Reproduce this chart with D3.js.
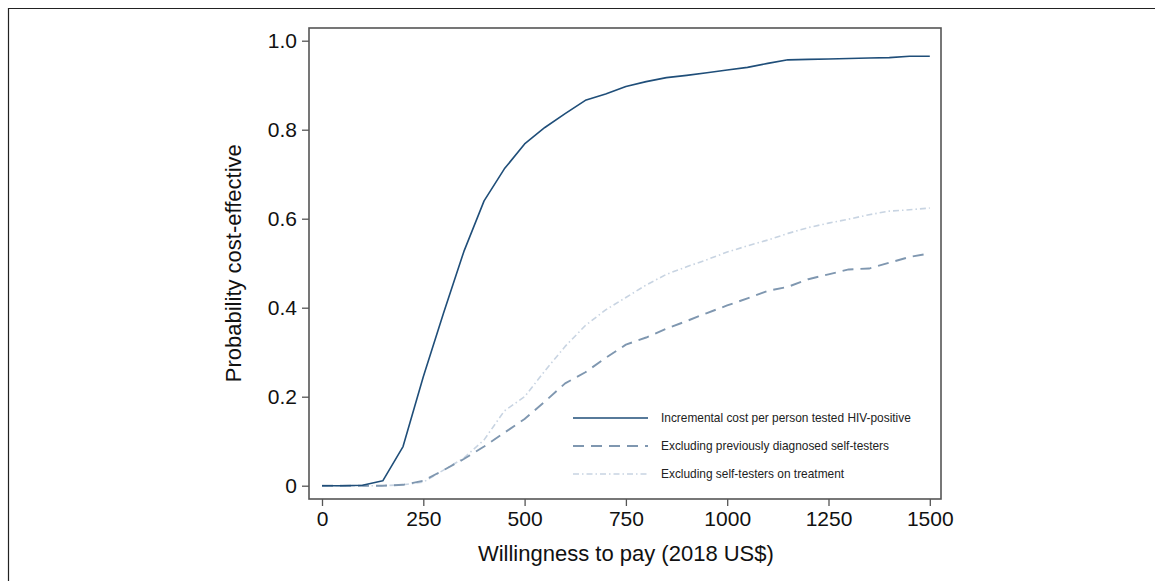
<!DOCTYPE html>
<html>
<head>
<meta charset="utf-8">
<script src="https://cdn.jsdelivr.net/npm/d3@7"></script>
<style>
  html, body { margin: 0; padding: 0; background: #fff; }
  svg { display: block; font-family: "Liberation Sans", Arial, Helvetica, sans-serif; }
</style>
</head>
<body>
<svg id="chart" width="1155" height="581"></svg>
<script>
// Willingness-to-pay thresholds (2018 US$)
const wtp = [0, 50, 100, 150, 200, 250, 300, 350, 400, 450, 500, 550, 600, 650, 700, 750,
             800, 850, 900, 950, 1000, 1050, 1100, 1150, 1200, 1250, 1300, 1350, 1400, 1450, 1500];

// Probability cost-effective for each scenario
const baseCase = [0, 0, 0.001, 0.011, 0.088, 0.245, 0.388, 0.526, 0.640, 0.712, 0.768, 0.805, 0.836, 0.866, 0.880, 0.897,
                  0.908, 0.917, 0.922, 0.928, 0.934, 0.940, 0.949, 0.957, 0.958, 0.959, 0.960, 0.961, 0.962, 0.965, 0.965];
const exclDiagnosed = [0, 0, 0, 0, 0.002, 0.011, 0.035, 0.060, 0.088, 0.119, 0.150, 0.189, 0.230, 0.255, 0.287, 0.317,
                       0.333, 0.353, 0.370, 0.388, 0.405, 0.421, 0.438, 0.447, 0.464, 0.475, 0.486, 0.488, 0.501, 0.514, 0.522];
const exclOnTreatment = [0, 0, 0, 0, 0.002, 0.008, 0.035, 0.062, 0.103, 0.168, 0.200, 0.258, 0.313, 0.360, 0.395, 0.423,
                         0.451, 0.475, 0.492, 0.508, 0.525, 0.539, 0.552, 0.567, 0.580, 0.590, 0.599, 0.609, 0.617, 0.620, 0.624];

const seriesNames = [
  "Incremental cost per person tested HIV-positive",
  "Excluding previously diagnosed self-testers",
  "Excluding self-testers on treatment"
];

const xTicks = [0, 250, 500, 750, 1000, 1250, 1500];
const xTickLabels = ["0", "250", "500", "750", "1000", "1250", "1500"];
const yTicks = [0, 0.2, 0.4, 0.6, 0.8, 1.0];
const yTickLabels = ["0", "0.2", "0.4", "0.6", "0.8", "1.0"];

const styles = [
  { color: "#1f4e79", width: 1.6, dash: null },
  { color: "#7f97b0", width: 1.9, dash: "11,7" },
  { color: "#c8d4e2", width: 1.6, dash: "6,3,1.5,3" }
];

const svg = d3.select("#chart");

// outer frame of the figure
svg.append("path")
  .attr("d", "M8.5,581 L8.5,8.5 L1155,8.5")
  .attr("fill", "none")
  .attr("stroke", "#222")
  .attr("stroke-width", 1.2);

const x = d3.scaleLinear().domain([0, 1500]).range([322, 929.8]);
const y = d3.scaleLinear().domain([0, 1]).range([485.7, 40.7]);

// plot region box
const box = { left: 309, right: 941, top: 28, bottom: 499 };
svg.append("rect")
  .attr("x", box.left).attr("y", box.top)
  .attr("width", box.right - box.left).attr("height", box.bottom - box.top)
  .attr("fill", "none").attr("stroke", "#555").attr("stroke-width", 1.6);

// axes
const xAxis = d3.axisBottom(x).tickValues(xTicks).tickFormat((d, i) => xTickLabels[i])
  .tickSize(7).tickPadding(5).tickSizeOuter(0);
const gx = svg.append("g").attr("transform", `translate(0,${box.bottom})`).call(xAxis);
gx.select(".domain").remove();
gx.selectAll(".tick line").attr("stroke", "#555").attr("stroke-width", 1.3);
gx.selectAll(".tick text").attr("font-size", 21).attr("fill", "#111")
  .attr("font-family", "'Liberation Sans', Arial, sans-serif");

const yAxis = d3.axisLeft(y).tickValues(yTicks).tickFormat((d, i) => yTickLabels[i])
  .tickSize(7).tickPadding(5).tickSizeOuter(0);
const gy = svg.append("g").attr("transform", `translate(${box.left},0)`).call(yAxis);
gy.select(".domain").remove();
gy.selectAll(".tick line").attr("stroke", "#555").attr("stroke-width", 1.3);
gy.selectAll(".tick text").attr("font-size", 21).attr("fill", "#111")
  .attr("font-family", "'Liberation Sans', Arial, sans-serif");

// axis titles
svg.append("text")
  .attr("x", (x(0) + x(1500)) / 2).attr("y", 561)
  .attr("text-anchor", "middle").attr("font-size", 22).attr("fill", "#111")
  .text("Willingness to pay (2018 US$)");

svg.append("text")
  .attr("transform", `translate(241,${y(0.5)}) rotate(-90)`)
  .attr("text-anchor", "middle").attr("font-size", 22).attr("fill", "#111")
  .text("Probability cost-effective");

// curves
const allSeries = [baseCase, exclDiagnosed, exclOnTreatment];
const line = d3.line().x((d, i) => x(wtp[i])).y(d => y(d));

// draw lighter series first so the solid line sits on top
[2, 1, 0].forEach(k => {
  const s = styles[k];
  svg.append("path")
    .datum(allSeries[k])
    .attr("d", line)
    .attr("fill", "none")
    .attr("stroke", s.color)
    .attr("stroke-width", s.width)
    .attr("stroke-dasharray", s.dash)
    .attr("stroke-linejoin", "round");
});

// legend
const legend = svg.append("g").attr("transform", "translate(573,418)");
seriesNames.forEach((name, i) => {
  const s = styles[i];
  const g = legend.append("g").attr("transform", `translate(0,${i * 28})`);
  g.append("line")
    .attr("x1", 0).attr("x2", 75).attr("y1", 0).attr("y2", 0)
    .attr("stroke", s.color).attr("stroke-width", s.width)
    .attr("stroke-dasharray", s.dash);
  g.append("text")
    .attr("x", 88).attr("y", 4)
    .attr("font-size", 11.9).attr("fill", "#222")
    .text(name);
});
</script>
</body>
</html>
